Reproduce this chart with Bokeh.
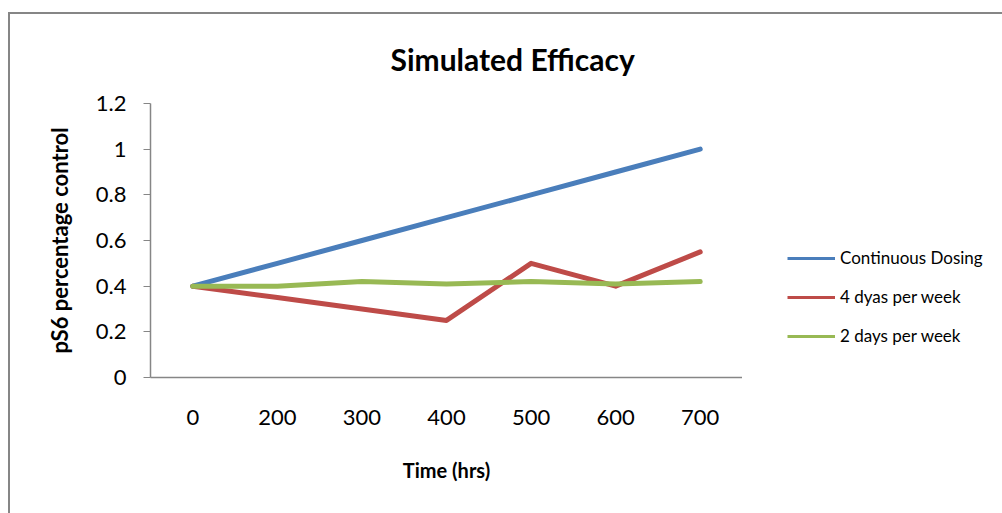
from bokeh.plotting import figure
from bokeh.models import FactorRange, Range1d, Legend, LegendItem, Title, FixedTicker
from bokeh.layouts import row
from bokeh.embed import file_html
from bokeh.resources import INLINE

times = ["0", "200", "300", "400", "500", "600", "700"]
continuous = [0.4, 0.5, 0.6, 0.7, 0.8, 0.9, 1.0]
four_days = [0.4, 0.35, 0.3, 0.25, 0.5, 0.4, 0.55]
two_days = [0.4, 0.4, 0.42, 0.41, 0.42, 0.41, 0.42]
y_ticks = [0, 0.2, 0.4, 0.6, 0.8, 1.0, 1.2]
y_tick_labels = {0: "0", 0.2: "0.2", 0.4: "0.4", 0.6: "0.6", 0.8: "0.8", 1.0: "1", 1.2: "1.2"}
series_names = ["Continuous Dosing", "4 dyas per week", "2 days per week"]
colors = ["#4A7EBB", "#BE4B48", "#98B954"]
series = [continuous, four_days, two_days]

FONT = "Lato"

p = figure(width=732, height=499, x_range=FactorRange(*times), y_range=Range1d(0, 1.2),
           output_backend="svg", toolbar_location=None,
           min_border_left=140, min_border_top=89, min_border_right=0, min_border_bottom=136)
p.outline_line_color = None
p.xgrid.grid_line_color = None
p.ygrid.grid_line_color = None
p.x_range.range_padding = 0

t = Title(text="Simulated Efficacy", align="left", offset=240, standoff=50, vertical_align="top",
          text_font=FONT, text_font_size="30px", text_font_style="bold", text_color="#000000")
p.add_layout(t, "above")

for vals, c in zip(series, colors):
    p.line(times, vals, line_color=c, line_width=5, line_cap="round", line_join="round")

# axes
p.yaxis.ticker = FixedTicker(ticks=y_ticks)
p.yaxis.major_label_overrides = y_tick_labels
p.yaxis.minor_tick_line_color = None
p.yaxis.major_tick_out = 7
p.yaxis.major_tick_in = 0
p.yaxis.major_tick_line_color = "#868686"
p.yaxis.axis_line_color = "#868686"
p.yaxis.axis_line_width = 1.5
p.yaxis.major_label_standoff = 17
p.yaxis.major_label_text_font = FONT
p.yaxis.major_label_text_font_size = "22px"
p.yaxis.major_label_text_color = "#000000"
p.yaxis.axis_label = "pS6 percentage control"
p.yaxis.axis_label_text_font = FONT
p.yaxis.axis_label_text_font_size = "22px"
p.yaxis.axis_label_text_font_style = "bold"
p.yaxis.axis_label_text_color = "#000000"
p.yaxis.axis_label_standoff = 20

p.xaxis.major_tick_line_color = None
p.xaxis.minor_tick_line_color = None
p.xaxis.axis_line_color = "#868686"
p.xaxis.axis_line_width = 1.5
p.xaxis.major_label_standoff = 26
p.xaxis.major_label_text_font = FONT
p.xaxis.major_label_text_font_size = "22px"
p.xaxis.major_label_text_color = "#000000"
p.xaxis.axis_label = "Time (hrs)"
p.xaxis.axis_label_text_font = FONT
p.xaxis.axis_label_text_font_size = "20px"
p.xaxis.axis_label_text_font_style = "bold"
p.xaxis.axis_label_text_color = "#000000"
p.xaxis.axis_label_standoff = 30

# legend panel: a second figure whose lines lie outside its view, so only the legend shows
lg = figure(width=260, height=499, x_range=FactorRange(*times), y_range=Range1d(10, 11),
            output_backend="svg", toolbar_location=None,
            min_border_left=0, min_border_right=0, min_border_top=0, min_border_bottom=0)
lg.axis.visible = False
lg.xgrid.grid_line_color = None
lg.ygrid.grid_line_color = None
lg.outline_line_color = None
legend_renderers = [lg.line(times, vals, line_color=c, line_width=3) for vals, c in zip(series, colors)]

legend = Legend(items=[LegendItem(label=n, renderers=[r]) for n, r in zip(series_names, legend_renderers)],
                location=(45, 31), orientation="vertical",
                glyph_width=48, glyph_height=20, label_height=20, spacing=18,
                label_standoff=5, padding=0, margin=0,
                border_line_color=None, background_fill_alpha=0,
                label_text_font=FONT, label_text_font_size="17px", label_text_color="#000000")
lg.add_layout(legend, "center")

layout = row(p, lg)
layout.styles = {"margin-left": "8px", "margin-top": "12px",
                 "border-left": "2px solid #868686", "border-top": "2px solid #868686"}

open("out.html", "w").write(file_html(layout, INLINE))
